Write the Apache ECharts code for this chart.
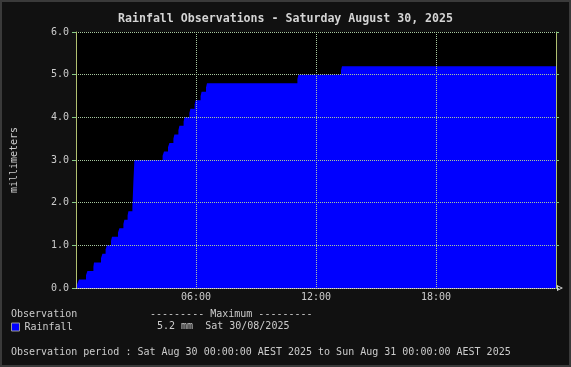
<!DOCTYPE html>
<html>
<head>
<meta charset="utf-8">
<script src="https://cdn.jsdelivr.net/npm/echarts@6/dist/echarts.min.js"></script>
<style>
html,body{margin:0;padding:0;background:#111111;}
#chart{width:571px;height:367px;}
</style>
</head>
<body>
<div id="chart"></div>
<script>
// Observation times (hours since midnight) at which the cumulative rainfall changes
var obsHours = [0, 0.067, 0.15, 0.5, 0.57, 0.87, 0.9, 1.25, 1.32, 1.48, 1.55, 1.75, 1.8, 2.1, 2.17, 2.37, 2.42, 2.58, 2.62, 2.82, 2.87, 2.92, 4.33, 4.4, 4.6, 4.67, 4.87, 4.92, 5.12, 5.17, 5.38, 5.43, 5.67, 5.72, 5.93, 5.98, 6.23, 6.28, 6.5, 6.55, 11.07, 11.12, 13.25, 13.3, 24];
// Cumulative rainfall (mm) from each time onward
var rainfallMm = [0, 0.1, 0.2, 0.3, 0.4, 0.5, 0.6, 0.7, 0.8, 0.9, 1.0, 1.1, 1.2, 1.3, 1.4, 1.5, 1.6, 1.7, 1.8, 1.9, 2.5, 3.0, 3.1, 3.2, 3.3, 3.4, 3.5, 3.6, 3.7, 3.8, 3.9, 4.0, 4.1, 4.2, 4.3, 4.4, 4.5, 4.6, 4.7, 4.8, 4.9, 5.0, 5.1, 5.2, 5.2];
var xTickHours = [6, 12, 18];
var xTickLabels = ['06:00', '12:00', '18:00'];
var seriesName = 'Rainfall';
var titleText = 'Rainfall Observations - Saturday August 30, 2025';
var maxHeader = '--------- Maximum ---------';
var maxText = '5.2 mm  Sat 30/08/2025';
var periodText = 'Observation period : Sat Aug 30 00:00:00 AEST 2025 to Sun Aug 31 00:00:00 AEST 2025';

var mono = 'DejaVu Sans Mono';
var txt = '#cccccc';
var gridCol = '#a8c8a0';
var data = obsHours.map(function (h, i) { return [h, rainfallMm[i]]; });

var chart = echarts.init(document.getElementById('chart'));
chart.setOption({
  backgroundColor: '#111111',
  animation: false,
  title: {
    text: titleText, left: 'center', top: 8,
    textStyle: {color: '#d4d4d4', fontFamily: mono, fontSize: 11.6, fontWeight: 'bold'}
  },
  grid: {left: 76, right: 15, top: 32, bottom: 79, show: true, backgroundColor: '#000000', borderWidth: 0},
  legend: {
    left: 11, top: 322, icon: 'rect', itemWidth: 8, itemHeight: 8, padding: 0,
    textStyle: {color: txt, fontFamily: mono, fontSize: 10},
    data: [{name: seriesName, itemStyle: {color: '#0000ff', borderColor: '#999999', borderWidth: 1}}]
  },
  xAxis: {
    type: 'value', min: 0, max: 24, interval: 6, z: 3,
    axisLine: {show: true, lineStyle: {color: '#dddddd', type: [1, 1]},
      symbol: ['none', 'path://M5,0 L10,10 L0,10 Z M5,3 L2.5,8.5 L7.5,8.5 Z'], symbolSize: [8, 6], symbolOffset: [0, 4]},
    axisTick: {show: false},
    axisLabel: {color: txt, fontFamily: mono, fontSize: 10, margin: 4,
      formatter: function (v) { var k = xTickHours.indexOf(v); return k >= 0 ? xTickLabels[k] : ''; }},
    splitLine: {show: true, lineStyle: {color: gridCol, type: [1, 1]}}
  },
  yAxis: [{
    type: 'value', min: 0, max: 6, interval: 1, z: 3,
    name: 'millimeters', nameLocation: 'middle', nameGap: 57, nameRotate: 90,
    nameTextStyle: {color: txt, fontFamily: mono, fontSize: 10},
    axisLine: {show: true, lineStyle: {color: '#b0c070'}},
    axisTick: {show: true, length: 4, lineStyle: {color: '#88cc88'}},
    axisLabel: {color: txt, fontFamily: mono, fontSize: 10, margin: 7,
      formatter: function (v) { return v.toFixed(1); }},
    splitLine: {show: true, lineStyle: {color: gridCol, type: [1, 1]}}
  }, {
    type: 'value', min: 0, max: 6, interval: 1, position: 'right', z: 3,
    axisLine: {show: true, lineStyle: {color: '#b0c070'}},
    axisTick: {show: true, length: 3, lineStyle: {color: '#88cc88'}},
    axisLabel: {show: false},
    splitLine: {show: false}
  }],
  series: [{
    name: seriesName, type: 'line', step: 'end', data: data, z: 1,
    showSymbol: false, symbol: 'none',
    lineStyle: {width: 0, color: '#0000ff'},
    itemStyle: {color: '#0000ff'},
    areaStyle: {color: '#0000ff', opacity: 1}
  }],
  graphic: [
    {type: 'rect', shape: {x: 1, y: 1, width: 569, height: 365}, style: {fill: 'none', stroke: '#3a3a3a', lineWidth: 2}, silent: true},
    {type: 'text', left: 11, top: 309, style: {text: 'Observation', fill: txt, font: '10px "DejaVu Sans Mono"'}},
    {type: 'text', left: 150, top: 309, style: {text: maxHeader, fill: txt, font: '10px "DejaVu Sans Mono"'}},
    {type: 'text', left: 157, top: 321, style: {text: maxText, fill: txt, font: '10px "DejaVu Sans Mono"'}},
    {type: 'text', left: 11, top: 347, style: {text: periodText, fill: txt, font: '10px "DejaVu Sans Mono"'}}
  ]
});
</script>
</body>
</html>
